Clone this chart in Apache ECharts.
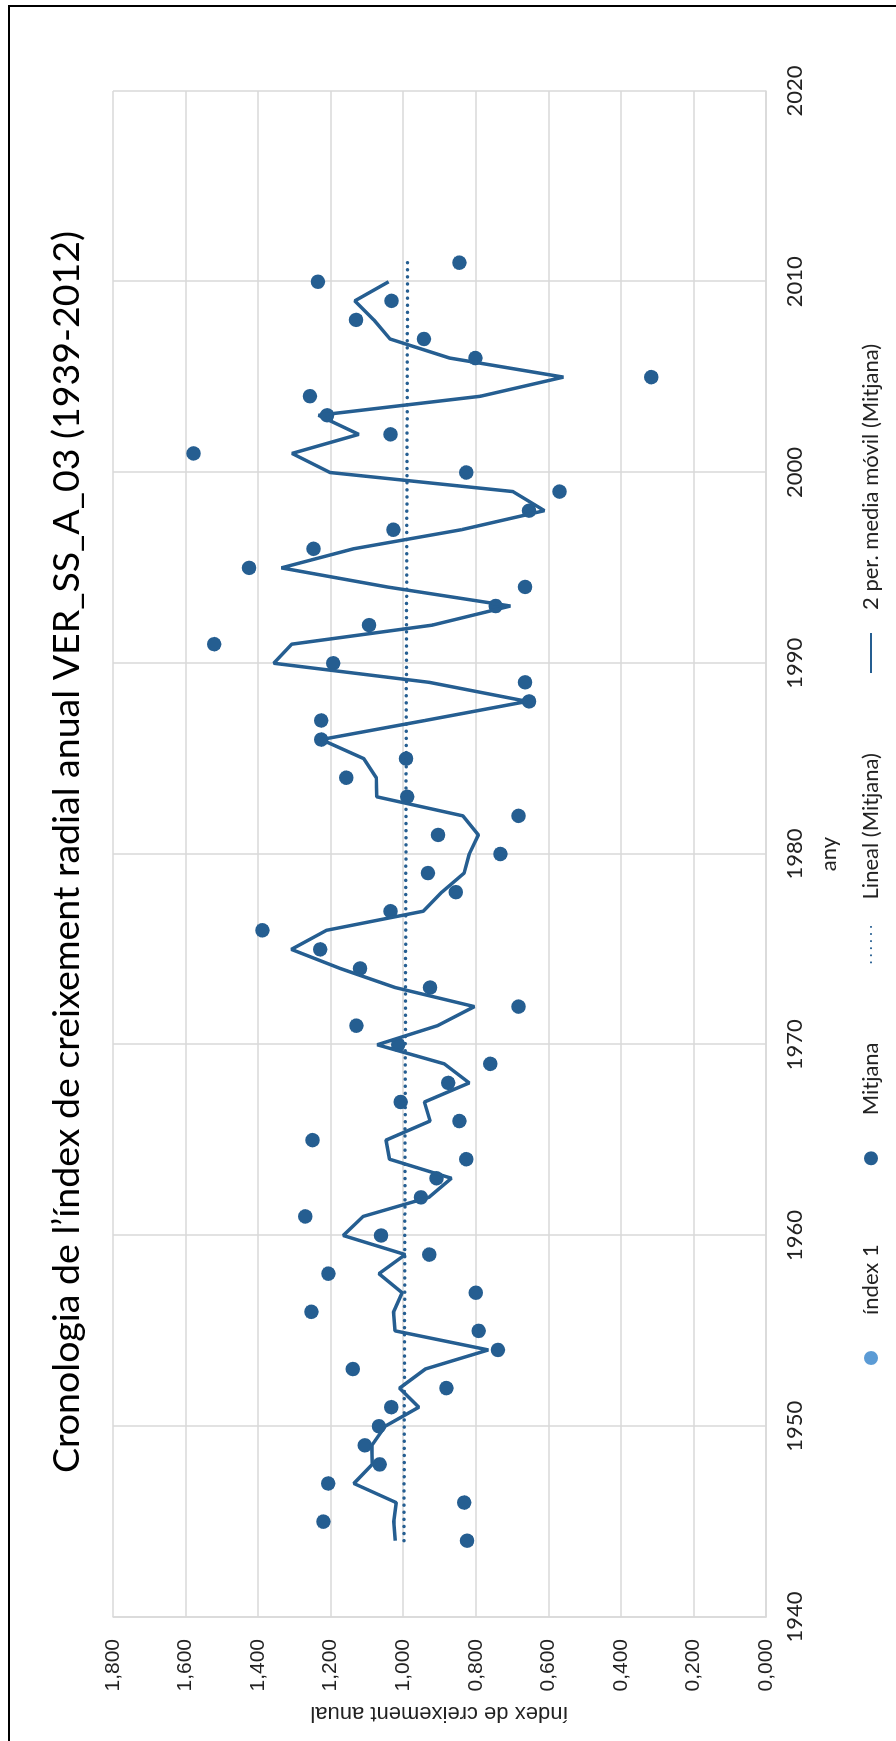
<!DOCTYPE html>
<html>
<head>
<meta charset="utf-8">
<script src="https://cdn.jsdelivr.net/npm/echarts@6/dist/echarts.min.js"></script>
<style>
  html, body { margin: 0; padding: 0; background: #fff; }
  body { width: 896px; height: 1741px; overflow: hidden; position: relative; }
  .frame {
    position: absolute; left: 8px; top: 5px; width: 1000px; height: 2000px;
    border-left: 2px solid #000; border-top: 2px solid #000;
  }
  /* the chart is laid out landscape and turned a quarter turn to the left */
  #chart {
    position: absolute; left: 0; top: 0; width: 1741px; height: 896px;
    transform-origin: 0 0;
    transform: translate(0, 1741px) rotate(-90deg);
  }
</style>
</head>
<body>
<div id="chart"></div>
<div class="frame"></div>
<script>
// años y valores (Mitjana)
const years = [
  1944, 1945, 1946, 1947, 1948, 1949, 1950, 1951, 1952, 1953,
  1954, 1955, 1956, 1957, 1958, 1959, 1960, 1961, 1962, 1963,
  1964, 1965, 1966, 1967, 1968, 1969, 1970, 1971, 1972, 1973,
  1974, 1975, 1976, 1977, 1978, 1979, 1980, 1981, 1982, 1983,
  1984, 1985, 1986, 1987, 1988, 1989, 1990, 1991, 1992, 1993,
  1994, 1995, 1996, 1997, 1998, 1999, 2000, 2001, 2002, 2003,
  2004, 2005, 2006, 2007, 2008, 2009, 2010, 2011
]
const mitjana = [
  0.824, 1.220, 0.832, 1.207, 1.065, 1.106, 1.067, 1.033, 0.881, 1.139,
  0.739, 0.792, 1.253, 0.800, 1.206, 0.928, 1.061, 1.270, 0.951, 0.908,
  0.826, 1.250, 0.845, 1.007, 0.876, 0.760, 1.014, 1.129, 0.682, 0.926,
  1.119, 1.229, 1.388, 1.035, 0.855, 0.932, 0.732, 0.904, 0.682, 0.989,
  1.157, 0.992, 1.226, 1.226, 0.653, 0.664, 1.193, 1.521, 1.094, 0.745,
  0.664, 1.425, 1.247, 1.027, 0.653, 0.569, 0.826, 1.578, 1.035, 1.210,
  1.257, 0.316, 0.801, 0.943, 1.130, 1.032, 1.235, 0.845
]
// extremos de la línea de tendencia lineal
const linealYears = [1944, 2011]
const linealValues = [0.998, 0.988]

const yearTicks = [1940, 2020, 10]
const valueTicks = [0, 1.8, 0.2]

const blue = '#255e91'
const lightBlue = '#5b9bd5'

const points = years.map((y, i) => [y, mitjana[i]])
const lineal = linealYears.map((y, i) => [y, linealValues[i]])
// media móvil de 2 períodos (la serie está ordenada de forma descendente en el original)
const mediaMovil = []
for (let i = 0; i < years.length - 1; i++) {
  mediaMovil.push([years[i], (mitjana[i] + mitjana[i + 1]) / 2])
}

const chart = echarts.init(document.getElementById('chart'), null, { renderer: 'canvas' })

const option = {
  animation: false,
  title: {
    text: 'Cronologia de l\u2019índex de creixement radial anual VER_SS_A_03 (1939-2012)',
    left: 884,
    textAlign: 'center',
    top: 43,
    textStyle: { fontFamily: 'Lato', fontSize: 37.5, fontWeight: 'normal', color: '#000' }
  },
  legend: {
    left: 371,
    top: 855,
    itemWidth: 40,
    itemHeight: 14,
    itemGap: 79,
    textStyle: { fontFamily: 'Lato', fontSize: 22, color: '#222', padding: [0, 0, 0, 18] },
    data: [
      'índex 1',
      'Mitjana',
      { name: 'Lineal (Mitjana)', itemStyle: { opacity: 0 } },
      { name: '2 per. media móvil (Mitjana)', itemStyle: { opacity: 0 } }
    ]
  },
  grid: { left: 124, right: 91, top: 113, bottom: 130 },
  xAxis: {
    type: 'value',
    min: yearTicks[0],
    max: yearTicks[1],
    interval: yearTicks[2],
    name: 'any',
    nameLocation: 'middle',
    nameGap: 52,
    nameTextStyle: { fontFamily: 'Lato', fontSize: 22, color: '#222' },
    axisLine: { show: true, lineStyle: { color: '#d9d9d9', width: 1.5 } },
    axisTick: { show: false },
    splitLine: { show: true, lineStyle: { color: '#d9d9d9', width: 1.5 } },
    axisLabel: {
      fontFamily: 'Lato', fontSize: 22, color: '#222', margin: 18,
      formatter: v => String(v)
    }
  },
  yAxis: {
    type: 'value',
    min: valueTicks[0],
    max: valueTicks[1],
    interval: valueTicks[2],
    name: 'índex de creixement anual',
    nameLocation: 'middle',
    nameGap: 85,
    nameTextStyle: { fontFamily: 'Liberation Sans', fontSize: 22, color: '#222' },
    axisLine: { show: true, lineStyle: { color: '#d9d9d9', width: 1.5 } },
    axisTick: { show: false },
    splitLine: { show: true, lineStyle: { color: '#d9d9d9', width: 1.5 } },
    axisLabel: {
      fontFamily: 'Liberation Sans', fontSize: 21, color: '#222', margin: 22,
      formatter: v => v.toFixed(3).replace('.', ',')
    }
  },
  series: [
    {
      name: 'índex 1',
      type: 'scatter',
      symbolSize: 14,
      itemStyle: { color: lightBlue, opacity: 1 },
      data: []
    },
    {
      name: 'Mitjana',
      type: 'scatter',
      symbolSize: 14.5,
      itemStyle: { color: blue, opacity: 1 },
      data: points
    },
    {
      name: 'Lineal (Mitjana)',
      type: 'line',
      symbol: 'none',
      color: blue,
      lineStyle: { color: blue, width: 3.5, type: [0.1, 7], cap: 'round' },
      data: lineal
    },
    {
      name: '2 per. media móvil (Mitjana)',
      type: 'line',
      symbol: 'none',
      color: blue,
      lineStyle: { color: blue, width: 3.5 },
      data: mediaMovil
    }
  ]
}

chart.setOption(option)
</script>
</body>
</html>
